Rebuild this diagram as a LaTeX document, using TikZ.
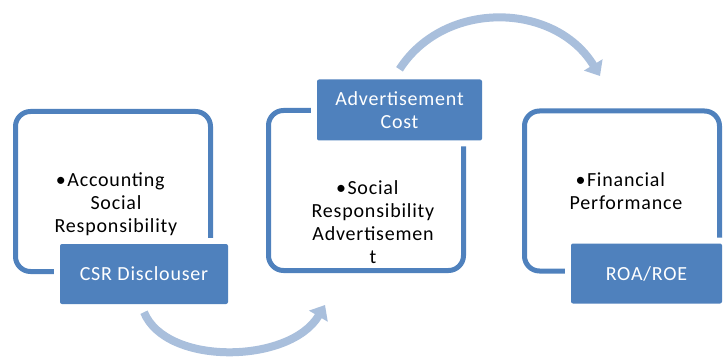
\documentclass[tikz,border=0pt]{standalone}
\usepackage{fontspec}
\setmainfont{Carlito}[LetterSpace=4]
\usetikzlibrary{arrows.meta,positioning}

\definecolor{boxblue}{HTML}{4F81BD}
\definecolor{arcblue}{HTML}{A9BFDC}

\begin{document}
\begin{tikzpicture}[x=1pt,y=-1pt,
	every node/.style={font=\fontsize{20}{22.8}\selectfont},
	panel/.style={draw=boxblue,line width=5pt,rounded corners=15pt,minimum width=195pt,minimum height=160pt},
	tag/.style={fill=boxblue,text=white,rounded corners=2pt,minimum height=60pt,align=center,
		preaction={draw=white,line width=12pt}},
	item/.style={align=center,text=black},
	flow/.style={draw=arcblue,line width=8pt,-{Triangle[width=21pt,length=13pt]}}]
	          %\draw[help lines] (0,0) grid[step=50] (725,358);
	          \useasboundingbox (0,0) rectangle (725,358);
	          \node[panel] (csrpanel) at (113,191.5) {};
	          \node[panel] (adpanel) at (366,190.5) {};
	          \node[panel] (fppanel) at (622,191) {};
	          \node[tag,minimum width=168pt] (csr) at ([xshift=31pt]csrpanel.south) {CSR Disclouser};
	          \node[tag,minimum width=165pt,minimum height=61pt] (cost) at ([xshift=33.5pt,yshift=-2pt]adpanel.north) {Advertisement\\Cost};
	          \node[tag,minimum width=151pt] (roa) at ([xshift=24.5pt]fppanel.south) {ROA/ROE};
	          \node[item] (csrtext) at (116,204) {\llap{\textbullet\hspace{1.5pt}}Accounting\\Social\\Responsibility};
	          \node[item] (adtext) at (373,222) {\llap{\textbullet\hspace{1.5pt}}Social\\Responsibility\\Advertisemen\\t};
	          \node[item] (fptext) at (626,191.5) {\llap{\textbullet\hspace{1.5pt}}Financial\\Performance};
	          \coordinate (adin) at (325,305);
	          \coordinate (fpin) at (600,76);
	          \draw[flow] ([yshift=-8pt]csr.south) .. controls +(22,54) and +(-35,59) .. (adin);
	          \draw[flow] ([yshift=10pt]cost.north) .. controls +(45,-70) and +(-45,-74) .. (fpin);
	          % \draw (adpanel) -- (fppanel);
\end{tikzpicture}
\end{document}
